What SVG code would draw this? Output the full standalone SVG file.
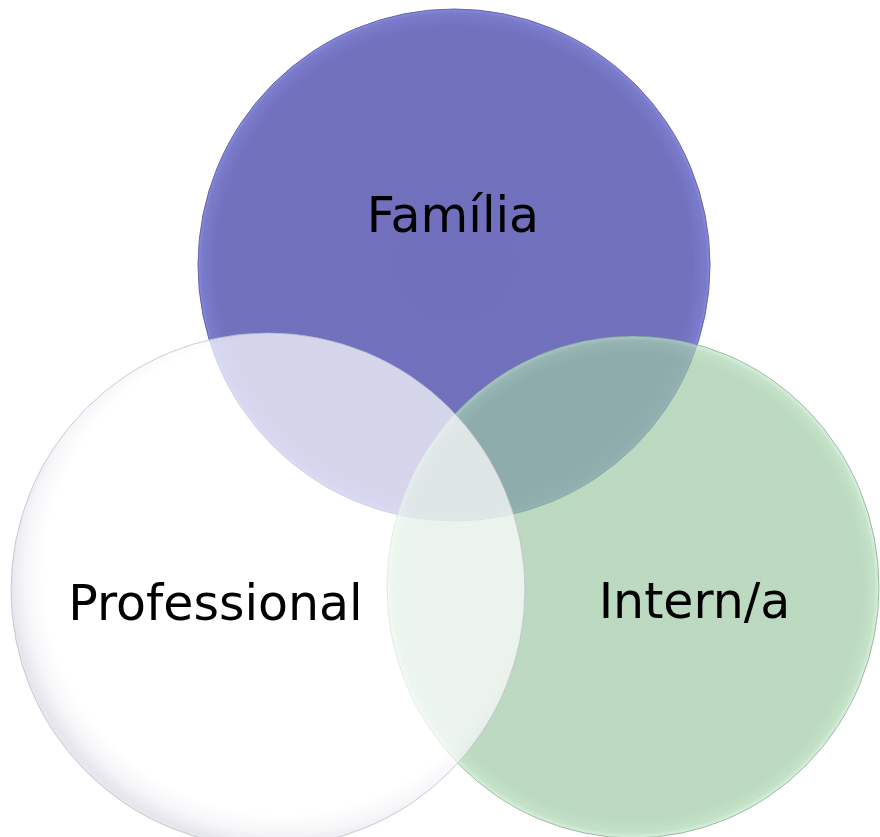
<svg xmlns="http://www.w3.org/2000/svg" width="880" height="837" viewBox="0 0 880 837">
  <defs>
    <radialGradient id="gPurple" cx="0.5" cy="0.5" r="0.5">
      <stop offset="0" stop-color="#7070bd"/>
      <stop offset="0.93" stop-color="#7171be"/>
      <stop offset="0.985" stop-color="#7b7bcc"/>
      <stop offset="1" stop-color="#8a8ae0"/>
    </radialGradient>
    <radialGradient id="gGreen" cx="0.5" cy="0.5" r="0.5">
      <stop offset="0" stop-color="#9cc8a2"/>
      <stop offset="0.93" stop-color="#9cc8a2"/>
      <stop offset="0.98" stop-color="#a8d4ae"/>
      <stop offset="1" stop-color="#c6ecce"/>
    </radialGradient>
    <radialGradient id="gWhite" cx="0.53" cy="0.47" r="0.53">
      <stop offset="0" stop-color="#ffffff"/>
      <stop offset="0.88" stop-color="#ffffff"/>
      <stop offset="0.95" stop-color="#f3f3f7"/>
      <stop offset="1" stop-color="#dcdce6"/>
    </radialGradient>
    <style>
      .lbl { font-family: "DejaVu Sans", Verdana, sans-serif; font-size: 49px; fill: #000; text-anchor: middle; }
    </style>
  </defs>
  <rect width="880" height="837" fill="#ffffff"/>
  <g id="node-familia">
    <circle cx="454" cy="265" r="256" fill="url(#gPurple)" stroke="#6464a6" stroke-width="1"/>
    <text class="lbl" x="453" y="232">Família</text>
  </g>
  <g id="node-intern">
    <ellipse cx="633" cy="587" rx="246" ry="251" fill="url(#gGreen)" fill-opacity="0.68" stroke="#6f8f78" stroke-opacity="0.6" stroke-width="1"/>
    <text class="lbl" x="694.5" y="618">Intern/a</text>
  </g>
  <g id="node-professional">
    <circle cx="268" cy="590" r="257" fill="url(#gWhite)" fill-opacity="0.7" stroke="#b8b8c4" stroke-opacity="0.7" stroke-width="1"/>
    <text class="lbl" x="215.5" y="620">Professional</text>
  </g>
</svg>
